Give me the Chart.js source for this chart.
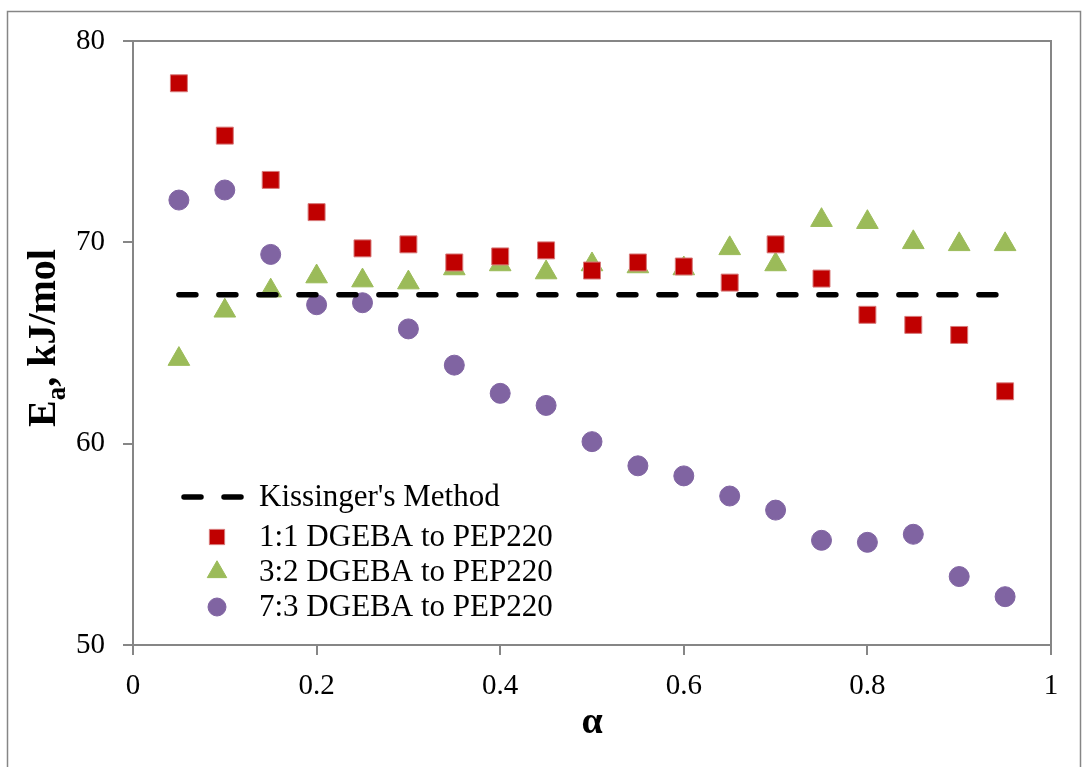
<!DOCTYPE html>
<html>
<head>
<meta charset="utf-8">
<script src="https://cdn.jsdelivr.net/npm/chart.js@4/dist/chart.umd.min.js"></script>
<style>
  body { margin: 0; background: #fff; }
  #wrap { width: 1084px; height: 767px; }
</style>
</head>
<body>
<div id="wrap"><canvas id="EaChart" width="1084" height="767"></canvas></div>
<script>
// conversion fraction
const alphaValues = [0.05, 0.10, 0.15, 0.20, 0.25, 0.30, 0.35, 0.40, 0.45, 0.50,
                     0.55, 0.60, 0.65, 0.70, 0.75, 0.80, 0.85, 0.90, 0.95];
// activation energy, kJ/mol
const ea_1to1 = [77.9, 75.3, 73.1, 71.5, 69.7, 69.9, 69.0, 69.3, 69.6, 68.6,
                 69.0, 68.8, 68.0, 69.9, 68.2, 66.4, 65.9, 65.4, 62.6];
const ea_3to2 = [64.2, 66.6, 67.6, 68.3, 68.1, 68.0, 68.7, 68.9, 68.5, 68.9,
                 68.8, 68.7, 69.7, 68.9, 71.1, 71.0, 70.0, 69.9, 69.9];
const ea_7to3 = [72.1, 72.6, 69.4, 66.9, 67.0, 65.7, 63.9, 62.5, 61.9, 60.1,
                 58.9, 58.4, 57.4, 56.7, 55.2, 55.1, 55.5, 53.4, 52.4];
const kissingerX = [0.05, 0.95];
const kissingerEa = [67.4, 67.4];
const xTicks = [0, 0.2, 0.4, 0.6, 0.8, 1];
const yTicks = [50, 60, 70, 80];

const seriesLabels = ["Kissinger's Method", '1:1 DGEBA to PEP220', '3:2 DGEBA to PEP220', '7:3 DGEBA to PEP220'];

function toPoints(xs, ys) {
    return xs.map((x, i) => ({ x: x, y: ys[i] }));
}

const axisGray = '#868686';
const serif = "'Liberation Serif', 'Times New Roman', serif";

// frame, y title with subscript, legend inside the plot
const extras = {
    id: 'extras',
    afterDraw(chart) {
        const ctx = chart.ctx;
        const area = chart.chartArea;
        ctx.save();
        // outer border
        ctx.strokeStyle = axisGray;
        ctx.lineWidth = 1.5;
        ctx.strokeRect(7.5, 11.5, 1073, 760);
        // plot frame (top and right)
        ctx.lineWidth = 2;
        ctx.beginPath();
        ctx.moveTo(area.left, area.top);
        ctx.lineTo(area.right, area.top);
        ctx.lineTo(area.right, area.bottom);
        ctx.stroke();

        // y axis title
        ctx.translate(45, 338);
        ctx.rotate(-Math.PI / 2);
        ctx.fillStyle = '#000';
        ctx.textBaseline = 'middle';
        const big = 'bold 40px ' + serif;
        const small = 'bold 27px ' + serif;
        ctx.font = big;
        const wE = ctx.measureText('E').width;
        const wRest = ctx.measureText(', kJ/mol').width;
        ctx.font = small;
        const wA = ctx.measureText('a').width;
        let x0 = -(wE + wA + wRest) / 2;
        ctx.font = big;
        ctx.textAlign = 'left';
        ctx.fillText('E', x0, 0);
        ctx.font = small;
        ctx.fillText('a', x0 + wE, 13);
        ctx.font = big;
        ctx.fillText(', kJ/mol', x0 + wE + wA, 0);
        ctx.restore();

        // legend
        ctx.save();
        const rowsY = [497, 537, 572, 607];
        ctx.textBaseline = 'middle';
        ctx.textAlign = 'left';
        chart.data.datasets.forEach((ds, i) => {
            const y = rowsY[i];
            if (ds.showLine) {
                ctx.strokeStyle = ds.borderColor;
                ctx.lineWidth = ds.borderWidth;
                ctx.lineCap = 'round';
                ctx.setLineDash(ds.borderDash);
                ctx.beginPath();
                ctx.moveTo(184, y);
                ctx.lineTo(243, y);
                ctx.stroke();
                ctx.setLineDash([]);
                ctx.lineCap = 'butt';
            } else {
                ctx.fillStyle = ds.backgroundColor;
                ctx.strokeStyle = ds.borderColor;
                ctx.lineWidth = ds.borderWidth;
                Chart.helpers.drawPoint(ctx, {
                    pointStyle: ds.pointStyle,
                    radius: ds.pointRadius * 0.9,
                    rotation: 0,
                    borderWidth: ds.borderWidth
                }, 217, y);
            }
            ctx.font = '31px ' + serif;
            ctx.fillStyle = '#000';
            ctx.fillText(ds.label, 259, y + 1);
        });
        ctx.restore();
    }
};

const ctx = document.getElementById('EaChart').getContext('2d');
const myChart = new Chart(ctx, {
    type: 'scatter',
    data: {
        datasets: [
            {
                label: seriesLabels[0],
                data: toPoints(kissingerX, kissingerEa),
                showLine: true,
                borderColor: '#000',
                borderWidth: 5.5,
                borderDash: [17, 23],
                borderCapStyle: 'round',
                pointRadius: 0,
                pointHoverRadius: 0
            },
            {
                label: seriesLabels[1],
                data: toPoints(alphaValues, ea_1to1),
                showLine: false,
                pointStyle: 'rect',
                pointRadius: 12,
                backgroundColor: '#C00000',
                borderColor: '#D77A7A',
                borderWidth: 1
            },
            {
                label: seriesLabels[2],
                data: toPoints(alphaValues, ea_3to2),
                showLine: false,
                pointStyle: 'triangle',
                pointRadius: 12.5,
                backgroundColor: '#9BBB59',
                borderColor: '#9BBB59',
                borderWidth: 1
            },
            {
                label: seriesLabels[3],
                data: toPoints(alphaValues, ea_7to3),
                showLine: false,
                pointStyle: 'circle',
                pointRadius: 10,
                backgroundColor: '#8064A2',
                borderColor: '#8064A2',
                borderWidth: 1
            }
        ]
    },
    options: {
        responsive: false,
        animation: false,
        layout: { padding: { top: 41, right: 33, left: 0, bottom: 0 } },
        plugins: {
            legend: { display: false },
            tooltip: { enabled: false }
        },
        scales: {
            x: {
                type: 'linear',
                min: 0,
                max: 1,
                afterFit: (scale) => { scale.height = 122; },
                afterBuildTicks: (scale) => { scale.ticks = xTicks.map(v => ({ value: v })); },
                ticks: {
                    padding: 14,
                    color: '#000',
                    font: { family: serif, size: 29 },
                    callback: (v) => String(Number(v.toFixed(1)))
                },
                grid: {
                    drawOnChartArea: false,
                    drawTicks: true,
                    tickLength: 10,
                    color: axisGray,
                    lineWidth: 2
                },
                border: { color: axisGray, width: 2 },
                title: {
                    display: true,
                    text: 'α',
                    color: '#000',
                    font: { family: serif, size: 38, weight: 'bold' },
                    padding: { top: 0, bottom: 21 }
                }
            },
            y: {
                min: 50,
                max: 80,
                afterFit: (scale) => { scale.width = 133; },
                afterBuildTicks: (scale) => { scale.ticks = yTicks.map(v => ({ value: v })); },
                ticks: {
                    padding: 18,
                    color: '#000',
                    font: { family: serif, size: 29 }
                },
                grid: {
                    drawOnChartArea: false,
                    drawTicks: true,
                    tickLength: 10,
                    color: axisGray,
                    lineWidth: 2
                },
                border: { color: axisGray, width: 2 }
            }
        }
    },
    plugins: [extras]
});
</script>
</body>
</html>
